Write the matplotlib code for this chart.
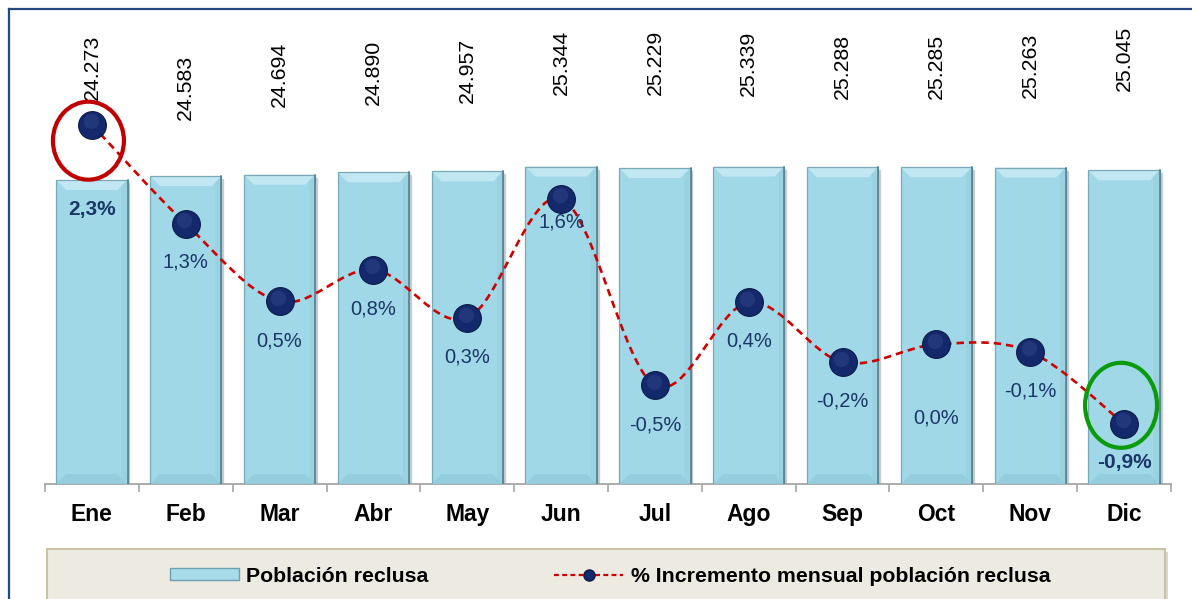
import numpy as np
import matplotlib
matplotlib.use("Agg")
import matplotlib.pyplot as plt
import matplotlib.transforms as mtransforms
from matplotlib.patches import Ellipse, Polygon, Rectangle, Patch, PathPatch
from matplotlib.path import Path
from matplotlib.lines import Line2D

plt.rcParams['font.family'] = ['Liberation Sans', 'DejaVu Sans']

# --- data ---
months = ['Ene', 'Feb', 'Mar', 'Abr', 'May', 'Jun', 'Jul', 'Ago', 'Sep', 'Oct', 'Nov', 'Dic']
poblacion = [24273, 24583, 24694, 24890, 24957, 25344, 25229, 25339, 25288, 25285, 25263, 25045]
incremento = [2.34, 1.28, 0.45, 0.79, 0.27, 1.55, -0.45, 0.44, -0.20, -0.01, -0.09, -0.86]
pct_labels = ['2,3%', '1,3%', '0,5%', '0,8%', '0,3%', '1,6%', '-0,5%', '0,4%', '-0,2%', '0,0%', '-0,1%', '-0,9%']

# label placement (pixels) tuned by eye
pob_gap_px = [80, 56, 68, 67, 68, 72, 73, 71, 68, 68, 70, 79]
pct_gap_px = [85, 38, 40, 39, 39, 23, 40, 39, 39, 74, 39, 39]
pct_bold = [True] + [False] * 10 + [True]

W, H, DPI = 1192, 599, 100
PT = 72 / DPI  # points per pixel

fig = plt.figure(figsize=(W / DPI, H / DPI), dpi=DPI)
fig.patch.set_facecolor('white')

# axes box in pixels: left 45, right 1171, bottom at 484 from top, top at 10
ax = fig.add_axes([45 / W, (H - 484) / H, 1126 / W, 474 / H])
ax2 = ax.twinx()

x = np.arange(len(months))
bar_w = 0.76
ax.set_xlim(-0.5, len(months) - 0.5)
ax.set_ylim(0, 37847)
ax2.set_ylim(-1.504, 3.567)

# bars with a simple bevel
face = '#A0D8E8'
ax.bar(x, poblacion, width=bar_w, color=face, edgecolor='none', zorder=2)
dx = 10 / 93.83
dy = 10 / 0.012524
for xi, v in zip(x, poblacion):
    x0, x1 = xi - bar_w / 2, xi + bar_w / 2
    # shadow on the right
    ax.add_patch(Rectangle((x1, 0), 0.02, v - dy * 0.3, color='#B4BCBF', alpha=0.6, zorder=1))
    ax.add_patch(Polygon([(x0, v), (x1, v), (x1 - dx, v - dy), (x0 + dx, v - dy)],
                         closed=True, facecolor='#C0E7F2', edgecolor='none', zorder=3))
    ax.add_patch(Polygon([(x0, 0), (x1, 0), (x1 - dx, dy), (x0 + dx, dy)],
                         closed=True, facecolor='#94CDDD', edgecolor='none', zorder=3))
    ax.add_patch(Polygon([(x1, 0), (x1, v), (x1 - dx * 0.6, v - dy * 0.6), (x1 - dx * 0.6, dy * 0.6)],
                         closed=True, facecolor='#9AD2E2', edgecolor='none', zorder=3))
    ax.add_patch(Rectangle((x0, 0), bar_w, v, fill=False, edgecolor='#7AA9B8', linewidth=0.9, zorder=4))
    ax.plot([x1, x1], [0, v], color='#4F7D8C', linewidth=1.1, zorder=4)

for xi, v, g in zip(x, poblacion, pob_gap_px):
    ax.annotate(f"{v:,}".replace(',', '.'), (xi, v), xytext=(0, g * PT), textcoords='offset points',
                rotation=90, ha='center', va='bottom', fontsize=15.3, color='black')

# axes styling
for s in ['left', 'right', 'top']:
    ax.spines[s].set_visible(False)
    ax2.spines[s].set_visible(False)
ax2.spines['bottom'].set_visible(False)
ax.spines['bottom'].set_color('#A6A6A6')
ax.spines['bottom'].set_linewidth(1.3)
ax.set_yticks([])
ax2.set_yticks([])
ax.set_xticks(x)
ax.set_xticklabels(months, fontsize=16.5, fontweight='bold')
ax.tick_params(axis='x', which='major', length=0, pad=13.5)
ax.set_xticks(np.arange(len(months) + 1) - 0.5, minor=True)
ax.tick_params(axis='x', which='minor', length=5.5, width=1.2, color='#A6A6A6', direction='out')

# smoothed dashed line (Bezier through the points)
pts = np.column_stack([x, incremento]).astype(float)
ext = np.vstack([pts[0], pts, pts[-1]])
verts = [tuple(pts[0])]
codes = [Path.MOVETO]
for i in range(len(pts) - 1):
    p0, p1, p2, p3 = ext[i], ext[i + 1], ext[i + 2], ext[i + 3]
    c1 = p1 + (p2 - p0) / 6
    c2 = p2 - (p3 - p1) / 6
    verts += [tuple(c1), tuple(c2), tuple(p2)]
    codes += [Path.CURVE4] * 3
ax2.add_patch(PathPatch(Path(verts, codes), fill=False, edgecolor='#CC0000', linewidth=1.9,
                        linestyle=(0, (2.8, 1.9)), zorder=3))

ax2.plot(x, incremento, linestyle='none', marker='o', markersize=20, markerfacecolor='#14296B',
         markeredgecolor='#0B1A48', markeredgewidth=0.8, zorder=4)
hl = mtransforms.offset_copy(ax2.transData, fig=fig, x=-1, y=2.5, units='points')
ax2.plot(x, incremento, linestyle='none', marker='o', markersize=11, markerfacecolor='#4A64A8',
         markeredgecolor='none', alpha=0.25, transform=hl, zorder=5)

for xi, v, lab, g, b in zip(x, incremento, pct_labels, pct_gap_px, pct_bold):
    ax2.annotate(lab, (xi, v), xytext=(0, -g * PT), textcoords='offset points', ha='center', va='center',
                 fontsize=15 if b else 14.5, fontweight='bold' if b else 'normal', color='#1B3768', zorder=6)

# highlight ellipses around first and last points (size in inches)
for idx, off, size, col in [(0, (-3.5, -16), (71, 78), '#C00000'),
                            (len(x) - 1, (-3, 18.5), (72, 85), '#0A9A0A')]:
    tr = fig.dpi_scale_trans + mtransforms.ScaledTranslation(x[idx], incremento[idx], ax2.transData)
    ax2.add_patch(Ellipse((off[0] / DPI, off[1] / DPI), size[0] / DPI, size[1] / DPI, transform=tr,
                          fill=False, edgecolor=col, linewidth=3, zorder=7, clip_on=False))

# outer frame (left and top)
fc = '#24497E'
fig.add_artist(Line2D([8.5 / W, 8.5 / W], [0, 1 - 9 / H], color=fc, linewidth=1.6, transform=fig.transFigure))
fig.add_artist(Line2D([8.5 / W, 1], [1 - 9 / H, 1 - 9 / H], color=fc, linewidth=1.6, transform=fig.transFigure))

# legend box
fig.add_artist(Rectangle((50 / W, -25 / H), 1118 / W, (H - 552 + 25) / H, transform=fig.transFigure,
                         facecolor='#B8B2A0', edgecolor='none', alpha=0.5))
fig.add_artist(Rectangle((47 / W, -25 / H), 1118 / W, (H - 549 + 25) / H, transform=fig.transFigure,
                         facecolor='#EDEBE1', edgecolor='#CBC3A2', linewidth=1.5))
handles = [Patch(facecolor='#A8DCEA', edgecolor='#6C9FB0', linewidth=1.0),
           Line2D([], [], color='#CC0000', linestyle=(0, (2.2, 1.5)), linewidth=1.6, marker='o',
                  markersize=8, markerfacecolor='#14296B', markeredgecolor='#0B1A48')]
fig.legend(handles, ['Población reclusa', '% Incremento mensual población reclusa'],
           loc='center', bbox_to_anchor=(610 / W, 23 / H), ncol=2, frameon=False,
           prop={'size': 15.3, 'weight': 'bold'}, handlelength=3.25, handleheight=0.55,
           handletextpad=0.35, columnspacing=5.9, numpoints=1)

fig.savefig('out.png', dpi=DPI)
